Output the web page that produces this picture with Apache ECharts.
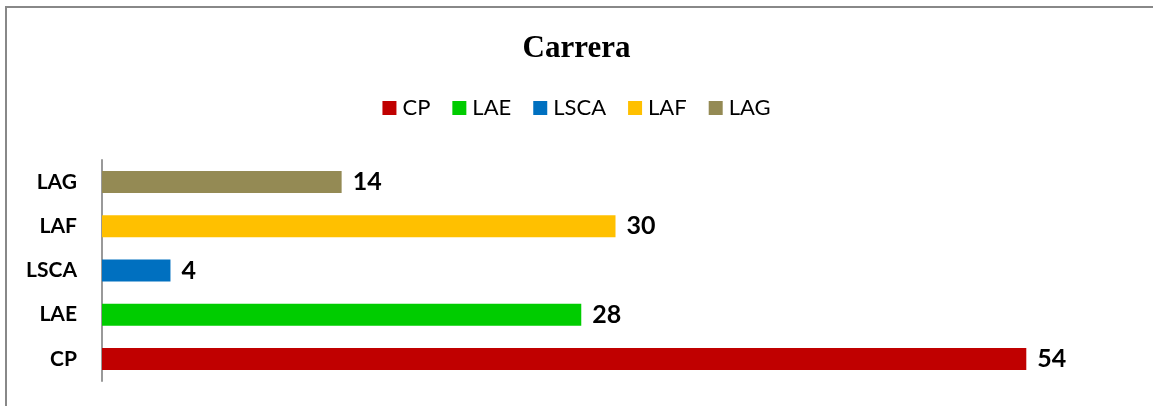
<!DOCTYPE html>
<html>
<head>
<meta charset="utf-8">
<script src="https://cdn.jsdelivr.net/npm/echarts@6/dist/echarts.min.js"></script>
<style>
  html, body { margin: 0; padding: 0; background: #fff; }
  #chart { width: 1153px; height: 406px; }
</style>
</head>
<body>
<div id="chart"></div>
<script>
// datos de la grafica
var categorias = ['CP', 'LAE', 'LSCA', 'LAF', 'LAG'];
var valores = [54, 28, 4, 30, 14];
var colores = ['#C00000', '#00CC00', '#0070C0', '#FFC000', '#948A54'];

var chart = echarts.init(document.getElementById('chart'));

// una serie por carrera para que salga en la leyenda
var series = [];
for (var i = 0; i < categorias.length; i++) {
  var d = categorias.map(function () { return null; });
  d[i] = valores[i];
  series.push({
    name: categorias[i],
    type: 'bar',
    data: d,
    barWidth: 22,
    barGap: '-100%',
    itemStyle: { color: colores[i] },
    label: {
      show: true,
      position: 'right',
      distance: 11,
      color: '#000',
      fontFamily: 'Lato',
      fontWeight: 'bold',
      fontSize: 25
    }
  });
}

var option = {
  animation: false,
  graphic: [{
    type: 'rect',
    shape: { x: 6, y: 7, width: 1160, height: 420 },
    style: { fill: 'none', stroke: '#888', lineWidth: 2 },
    silent: true
  }],
  title: {
    text: 'Carrera',
    left: 'center',
    top: 28,
    textStyle: {
      fontFamily: 'Liberation Serif',
      fontWeight: 'bold',
      fontSize: 31,
      color: '#000'
    }
  },
  legend: {
    top: 92,
    left: 'center',
    itemWidth: 14,
    itemHeight: 14,
    itemGap: 22,
    icon: 'rect',
    data: categorias,
    textStyle: { fontFamily: 'Lato', fontSize: 22, color: '#000', padding: [0, 0, 0, 1] }
  },
  grid: { left: 102, right: 24, top: 160, bottom: 25, containLabel: false },
  xAxis: {
    type: 'value',
    min: 0,
    max: 60,
    show: false
  },
  yAxis: {
    type: 'category',
    data: categorias,
    axisLine: { show: true, lineStyle: { color: '#999', width: 2 } },
    axisTick: { show: false },
    axisLabel: {
      margin: 25,
      color: '#000',
      fontFamily: 'Lato',
      fontWeight: 'bold',
      fontSize: 21
    }
  },
  series: series
};

chart.setOption(option);
</script>
</body>
</html>
